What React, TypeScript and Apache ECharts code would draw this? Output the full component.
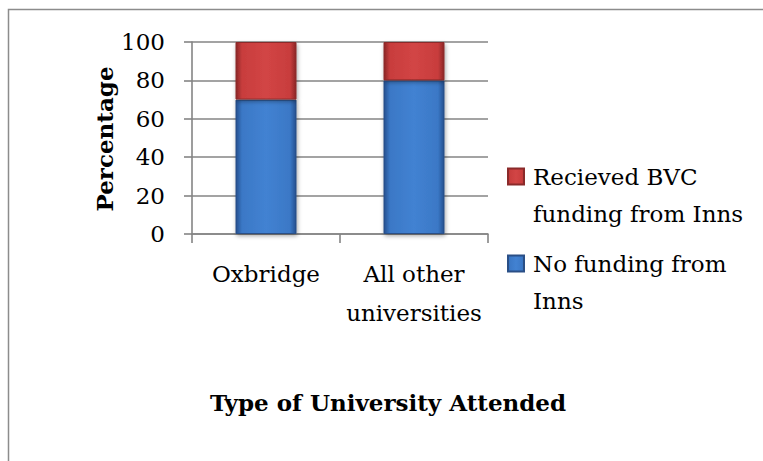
import React, { useEffect, useRef } from "react";
import * as echarts from "echarts";

const categories = ["Oxbridge", "All other\nuniversities"];
const seriesNames = ["No funding from Inns", "Recieved BVC funding from Inns"];
const legendLabels = ["No funding from\nInns", "Recieved BVC\nfunding from Inns"];
const noFunding = [70, 80];
const receivedFunding = [30, 20];
const yMin = 0;
const yMax = 100;
const yStep = 20;
const xTitle = "Type of University Attended";
const yTitle = "Percentage";

const FONT = '"DejaVu Serif", serif';
const GRID_COLOR = "#858585";

function barGradient(edge: string, main: string, light: string) {
  return new echarts.graphic.LinearGradient(0, 0, 1, 0, [
    { offset: 0, color: edge },
    { offset: 0.1, color: main },
    { offset: 0.5, color: light },
    { offset: 0.9, color: main },
    { offset: 1, color: edge },
  ]);
}

export default function App() {
  const ref = useRef<HTMLDivElement>(null);
  useEffect(() => {
    if (!ref.current) return;
    const chart = echarts.init(ref.current, undefined, { renderer: "svg" });
    const legendText = {
      fontFamily: FONT,
      fontSize: 23,
      color: "#000",
      lineHeight: 37,
      padding: [0, 0, 0, 4],
    };
    // leading empty line so the icon sits beside the first line of text
    const fmt = (name: string) => "\n" + legendLabels[seriesNames.indexOf(name)];
    chart.setOption({
      animation: false,
      backgroundColor: "#ffffff",
      grid: { left: 192, top: 42, width: 296, height: 192, containLabel: false },
      xAxis: {
        type: "category",
        data: categories,
        axisLine: { show: true, lineStyle: { color: GRID_COLOR, width: 1.6 } },
        axisTick: { show: true, length: 9, lineStyle: { color: GRID_COLOR, width: 1.6 } },
        axisLabel: {
          interval: 0,
          fontFamily: FONT,
          fontSize: 23,
          color: "#000",
          lineHeight: 39,
          margin: 20,
        },
      },
      yAxis: {
        type: "value",
        min: yMin,
        max: yMax,
        interval: yStep,
        axisLine: { show: true, lineStyle: { color: GRID_COLOR, width: 1.6 } },
        axisTick: { show: true, length: 8, lineStyle: { color: GRID_COLOR, width: 1.6 } },
        splitLine: { show: true, lineStyle: { color: GRID_COLOR, width: 1.6 } },
        axisLabel: { fontFamily: FONT, fontSize: 23, color: "#000", margin: 27 },
      },
      legend: [
        {
          data: [seriesNames[1]],
          left: 507,
          top: 121,
          padding: 0,
          itemWidth: 16,
          itemHeight: 16,
          icon: "rect",
          formatter: fmt,
          textStyle: legendText,
        },
        {
          data: [seriesNames[0]],
          left: 507,
          top: 208,
          padding: 0,
          itemWidth: 16,
          itemHeight: 16,
          icon: "rect",
          formatter: fmt,
          textStyle: legendText,
        },
      ],
      series: [
        {
          name: seriesNames[0],
          type: "bar",
          stack: "total",
          data: noFunding,
          barWidth: 61,
          itemStyle: {
            color: barGradient("#24508f", "#3b78c6", "#4282d2"),
            borderColor: "#2a4f86",
            borderWidth: 1,
            shadowBlur: 4,
            shadowColor: "rgba(0,0,0,0.35)",
            shadowOffsetX: 1,
            shadowOffsetY: 2,
          },
        },
        {
          name: seriesNames[1],
          type: "bar",
          stack: "total",
          data: receivedFunding,
          barWidth: 61,
          itemStyle: {
            color: barGradient("#8c2626", "#c83d3d", "#d24545"),
            borderColor: "#8a2a2a",
            borderWidth: 1,
            shadowBlur: 4,
            shadowColor: "rgba(0,0,0,0.35)",
            shadowOffsetX: 1,
            shadowOffsetY: 2,
          },
        },
      ],
      graphic: [
        {
          type: "rect",
          shape: { x: 8.5, y: 9.5, width: 800, height: 500 },
          style: { fill: "none", stroke: "#8c8c8c", lineWidth: 1.5 },
          silent: true,
        },
        {
          type: "text",
          x: 388,
          y: 402,
          style: {
            text: xTitle,
            fontFamily: FONT,
            fontWeight: "bold",
            fontSize: 23,
            fill: "#000",
            align: "center",
            verticalAlign: "middle",
          },
        },
        {
          type: "text",
          x: 104,
          y: 139,
          rotation: Math.PI / 2,
          style: {
            text: yTitle,
            fontFamily: FONT,
            fontWeight: "bold",
            fontSize: 23,
            fill: "#000",
            align: "center",
            verticalAlign: "middle",
          },
        },
      ],
    });
    return () => chart.dispose();
  }, []);
  return (
    <div
      ref={ref}
      style={{ position: "fixed", left: 0, top: 0, width: 763, height: 461 }}
    />
  );
}
